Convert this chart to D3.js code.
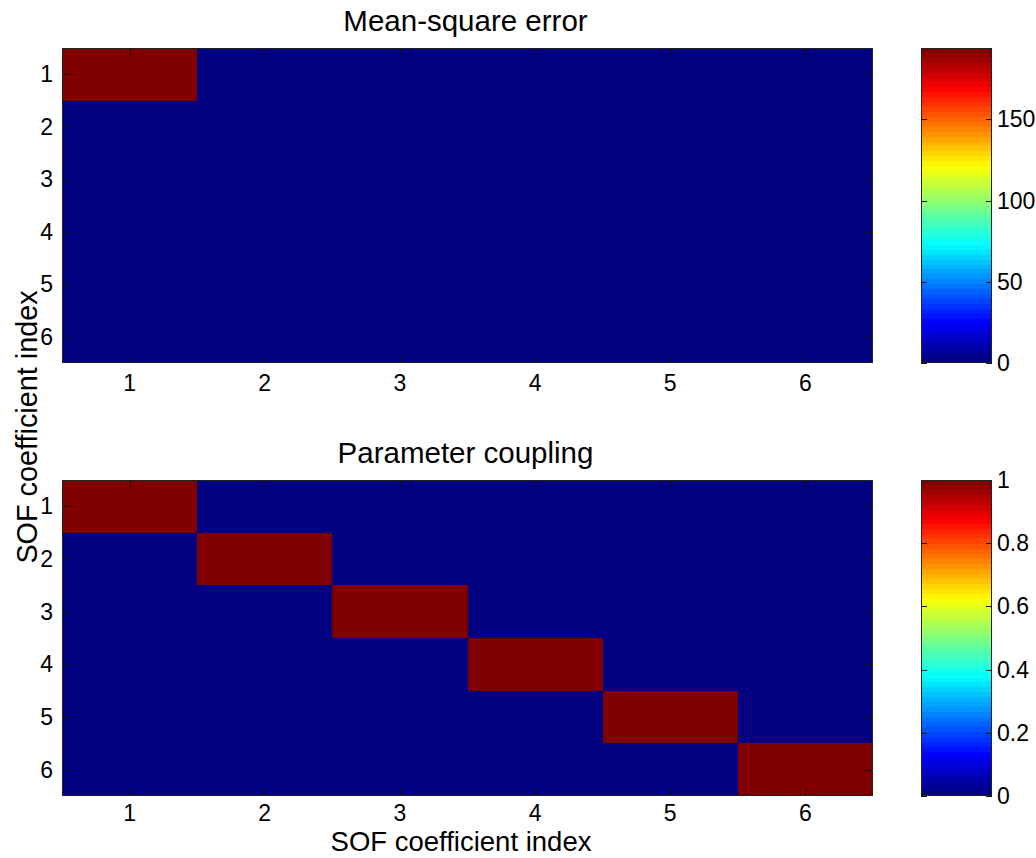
<!DOCTYPE html>
<html>
<head>
<meta charset="utf-8">
<script src="https://cdn.jsdelivr.net/npm/d3@7"></script>
<style>
  html, body { margin: 0; padding: 0; background: #fff; }
  svg { display: block; font-family: "Liberation Sans", Arial, sans-serif; }
</style>
</head>
<body>
<svg id="chart" width="1036" height="858"></svg>
<script>
// ---- data ----
const xCategories = [1, 2, 3, 4, 5, 6];
const yCategories = [1, 2, 3, 4, 5, 6];
const mseValues = [
  [194, 0, 0, 0, 0, 0],
  [0, 0, 0, 0, 0, 0],
  [0, 0, 0, 0, 0, 0],
  [0, 0, 0, 0, 0, 0],
  [0, 0, 0, 0, 0, 0],
  [0, 0, 0, 0, 0, 0]
];
const couplingValues = [
  [1, 0, 0, 0, 0, 0],
  [0, 1, 0, 0, 0, 0],
  [0, 0, 1, 0, 0, 0],
  [0, 0, 0, 1, 0, 0],
  [0, 0, 0, 0, 1, 0],
  [0, 0, 0, 0, 0, 1]
];
const mseDomain = [0, 194];
const couplingDomain = [0, 1];
const mseTicks = [0, 50, 100, 150];
const couplingTicks = [0, 0.2, 0.4, 0.6, 0.8, 1];
const titles = ["Mean-square error", "Parameter coupling"];
const axisLabel = "SOF coefficient index";

// ---- jet colormap (64 levels) ----
function jet(t) {
  const c = v => Math.max(0, Math.min(1, v));
  const r = c(1.5 - Math.abs(4 * t - 3));
  const g = c(1.5 - Math.abs(4 * t - 2));
  const b = c(1.5 - Math.abs(4 * t - 1));
  return d3.rgb(r * 255, g * 255, b * 255).toString();
}
const NLEV = 64;
function quantJet(t) {
  const i = Math.min(NLEV - 1, Math.max(0, Math.floor(t * NLEV)));
  return jet(i / (NLEV - 1));
}

const svg = d3.select("#chart");
const plotX0 = 62, plotX1 = 873;
const cbX0 = 921, cbX1 = 992;
const panels = [
  { y0: 48, y1: 363, values: mseValues, domain: mseDomain, ticks: mseTicks, title: titles[0], fmt: d3.format("d"), xtOff: 20 },
  { y0: 480, y1: 796, values: couplingValues, domain: couplingDomain, ticks: couplingTicks, title: titles[1], fmt: d => (d === 0 || d === 1) ? String(d) : d3.format(".1f")(d), xtOff: 17 }
];

const tickLen = 8;
const tickFont = 23;

panels.forEach(p => {
  const x = d3.scaleBand().domain(xCategories).range([plotX0, plotX1]).padding(0);
  const y = d3.scaleBand().domain(yCategories).range([p.y0, p.y1]).padding(0);
  const norm = d3.scaleLinear().domain(p.domain).range([0, 1]).clamp(true);
  const g = svg.append("g");

  // cells
  const cells = [];
  p.values.forEach((row, ri) => row.forEach((v, ci) => cells.push({ r: yCategories[ri], c: xCategories[ci], v })));
  g.selectAll("rect.cell").data(cells).enter().append("rect")
    .attr("class", "cell")
    .attr("shape-rendering", "crispEdges")
    .attr("x", d => Math.round(x(d.c))).attr("y", d => Math.round(y(d.r)))
    .attr("width", d => Math.round(x(d.c) + x.bandwidth()) - Math.round(x(d.c)))
    .attr("height", d => Math.round(y(d.r) + y.bandwidth()) - Math.round(y(d.r)))
    .attr("fill", d => quantJet(norm(d.v)));

  // ticks (inward on all four sides)
  const tg = g.append("g").attr("stroke", "#111").attr("stroke-width", 1);
  xCategories.forEach(c => {
    const cx = Math.round(x(c) + x.bandwidth() / 2) + 0.5;
    tg.append("line").attr("x1", cx).attr("x2", cx).attr("y1", p.y1).attr("y2", p.y1 - tickLen);
    tg.append("line").attr("x1", cx).attr("x2", cx).attr("y1", p.y0).attr("y2", p.y0 + tickLen);
  });
  yCategories.forEach(r => {
    const cy = Math.round(y(r) + y.bandwidth() / 2) + 0.5;
    tg.append("line").attr("x1", plotX0).attr("x2", plotX0 + tickLen).attr("y1", cy).attr("y2", cy);
    tg.append("line").attr("x1", plotX1).attr("x2", plotX1 - tickLen).attr("y1", cy).attr("y2", cy);
  });

  // border
  g.append("rect").attr("x", plotX0 + 0.5).attr("y", p.y0 + 0.5)
    .attr("width", plotX1 - plotX0 - 1).attr("height", p.y1 - p.y0 - 1)
    .attr("fill", "none").attr("stroke", "#222").attr("stroke-width", 1);

  // tick labels
  g.selectAll("text.xt").data(xCategories).enter().append("text")
    .attr("x", d => x(d) + x.bandwidth() / 2).attr("y", p.y1 + p.xtOff)
    .attr("text-anchor", "middle").attr("dominant-baseline", "central")
    .attr("font-size", tickFont).attr("fill", "#000").text(d => d);
  g.selectAll("text.yt").data(yCategories).enter().append("text")
    .attr("x", plotX0 - 9).attr("y", d => y(d) + y.bandwidth() / 2)
    .attr("text-anchor", "end").attr("dominant-baseline", "central")
    .attr("font-size", tickFont).attr("fill", "#000").text(d => d);

  // title
  g.append("text").attr("x", (plotX0 + plotX1) / 2 - 2).attr("y", p.y0 - 17)
    .attr("text-anchor", "middle").attr("font-size", 29.5).attr("fill", "#000").text(p.title);

  // colorbar
  const cbScale = d3.scaleLinear().domain(p.domain).range([p.y1, p.y0]);
  const levels = d3.range(NLEV);
  const levH = (p.y1 - p.y0) / NLEV;
  g.selectAll("rect.cb").data(levels).enter().append("rect")
    .attr("shape-rendering", "crispEdges")
    .attr("x", cbX0).attr("width", cbX1 - cbX0)
    .attr("y", i => Math.round(p.y1 - (i + 1) * levH))
    .attr("height", i => Math.round(p.y1 - i * levH) - Math.round(p.y1 - (i + 1) * levH))
    .attr("fill", i => jet(i / (NLEV - 1)));
  const cg = g.append("g").attr("stroke", "#111").attr("stroke-width", 1);
  p.ticks.forEach(t => {
    const ty = Math.round(cbScale(t)) + 0.5;
    cg.append("line").attr("x1", cbX0).attr("x2", cbX0 + 6).attr("y1", ty).attr("y2", ty);
    cg.append("line").attr("x1", cbX1).attr("x2", cbX1 - 6).attr("y1", ty).attr("y2", ty);
  });
  g.append("rect").attr("x", cbX0 + 0.5).attr("y", p.y0 + 0.5)
    .attr("width", cbX1 - cbX0 - 1).attr("height", p.y1 - p.y0 - 1)
    .attr("fill", "none").attr("stroke", "#222").attr("stroke-width", 1);
  g.selectAll("text.cbt").data(p.ticks).enter().append("text")
    .attr("x", cbX1 + 5).attr("y", d => cbScale(d))
    .attr("dominant-baseline", "central")
    .attr("font-size", tickFont).attr("fill", "#000").text(d => p.fmt(d));
});

// shared axis labels
svg.append("text").attr("x", 461).attr("y", 851)
  .attr("text-anchor", "middle").attr("font-size", 27.5).attr("fill", "#000").text(axisLabel);
svg.append("text").attr("transform", "translate(37,427) rotate(-90)")
  .attr("text-anchor", "middle").attr("font-size", 28.8).attr("fill", "#000").text(axisLabel);
</script>
</body>
</html>
